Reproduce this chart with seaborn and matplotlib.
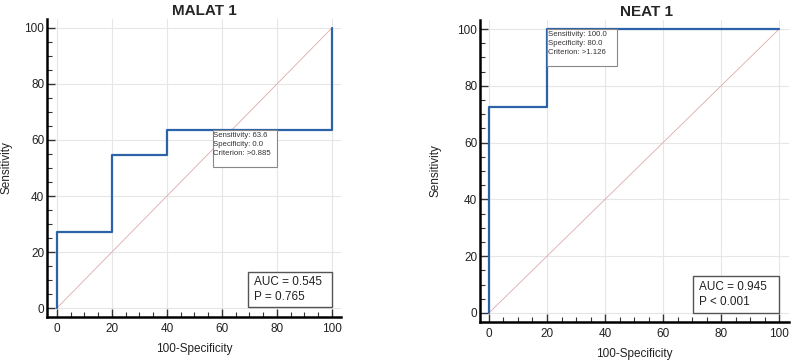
import matplotlib
matplotlib.use("Agg")
import matplotlib.pyplot as plt
import matplotlib.patches as patches
from matplotlib.ticker import MultipleLocator
import seaborn as sns

# ROC curve points (100-Specificity, Sensitivity)
malat_fpr = [0, 0, 20, 20, 40, 40, 100, 100]
malat_tpr = [0, 27.3, 27.3, 54.5, 54.5, 63.6, 63.6, 100]
neat_fpr = [0, 0, 20, 20, 100]
neat_tpr = [0, 72.7, 72.7, 100, 100]

titles = ["MALAT 1", "NEAT 1"]
auc_text = ["AUC = 0.545\nP = 0.765", "AUC = 0.945\nP < 0.001"]
crit_text = ["Sensitivity: 63.6\nSpecificity: 0.0\nCriterion: >0.885",
             "Sensitivity: 100.0\nSpecificity: 80.0\nCriterion: >1.126"]

sns.set_theme(style="white")
plt.rcParams["font.family"] = ["Liberation Sans", "DejaVu Sans"]

fig = plt.figure(figsize=(7.94, 3.62), dpi=100)
ax1 = fig.add_axes([0.0592, 0.1243, 0.3703, 0.8232])
ax2 = fig.add_axes([0.6045, 0.1105, 0.3892, 0.8343])

setups = [
    (ax1, malat_fpr, malat_tpr, (-3.6, 103.3), (-3.2, 103.2),
     (56.7, 50.4, 23.3, 13.2), (69.5, 0.4, 30.5, 12.5)),
    (ax2, neat_fpr, neat_tpr, (-3.1, 103.4), (-3.2, 103.2),
     (20, 87, 24.1, 13), (70.3, 0, 29.7, 13)),
]

blue = "#2b62a8"
for i, (ax, fx, ty, xl, yl, cbox, abox) in enumerate(setups):
    ax.set_xlim(*xl)
    ax.set_ylim(*yl)
    ax.set_xticks([0, 20, 40, 60, 80, 100])
    ax.set_yticks([0, 20, 40, 60, 80, 100])
    ax.xaxis.set_minor_locator(MultipleLocator(5))
    ax.yaxis.set_minor_locator(MultipleLocator(5))
    ax.grid(True, which="major", color="#e6e6e6", lw=0.8)
    ax.set_axisbelow(True)
    for s in ["top", "right"]:
        ax.spines[s].set_visible(False)
    for s in ["left", "bottom"]:
        ax.spines[s].set_color("black")
        ax.spines[s].set_linewidth(1.8)
    ax.tick_params(which="major", direction="in", length=6, width=1.0,
                   color="#333333", labelsize=8.5, labelcolor="#222222",
                   pad=2, left=True, bottom=True)
    ax.tick_params(axis="x", which="major", pad=4.5)
    ax.tick_params(which="minor", direction="in", length=3.5, width=0.8,
                   color="#333333", left=True, bottom=True)

    # reference diagonal
    sns.lineplot(x=[0, 100], y=[0, 100], ax=ax, color="#dcaaaa", lw=0.6)
    # ROC curve
    sns.lineplot(x=fx, y=ty, ax=ax, sort=False, estimator=None,
                 color=blue, lw=1.6)

    # criterion box
    cx, cy, cw, ch = cbox
    ax.add_patch(patches.Rectangle((cx, cy), cw, ch, facecolor="white",
                                   edgecolor="#888888", lw=0.8, zorder=4))
    ax.text(cx + 0.2, cy + ch - 0.8, crit_text[i], fontsize=5.6, va="top",
            ha="left", color="#333333", linespacing=1.35, zorder=5)

    # AUC box
    bx, by, bw, bh = abox
    ax.add_patch(patches.Rectangle((bx, by), bw, bh, facecolor="white",
                                   edgecolor="#555555", lw=1.0, zorder=4))
    ax.text(bx + 2.2, by + bh / 2, auc_text[i], fontsize=8.5, va="center",
            ha="left", color="#222222", linespacing=1.3, zorder=5)

    ax.set_xlabel("100-Specificity", fontsize=8.5, color="#222222")
    ax.set_ylabel("Sensitivity", fontsize=8.5, color="#222222")
    ax.set_title(titles[i], fontsize=11, fontweight="bold", va="center")

ax1.yaxis.set_label_coords(-0.119, 0.503)
ax1.xaxis.set_label_coords(0.5, -0.087)
ax1.title.set_position((0.534, 1.027))
ax2.yaxis.set_label_coords(-0.123, 0.503)
ax2.xaxis.set_label_coords(0.5, -0.086)
ax2.title.set_position((0.540, 1.03))

fig.savefig("out.png", dpi=100)
